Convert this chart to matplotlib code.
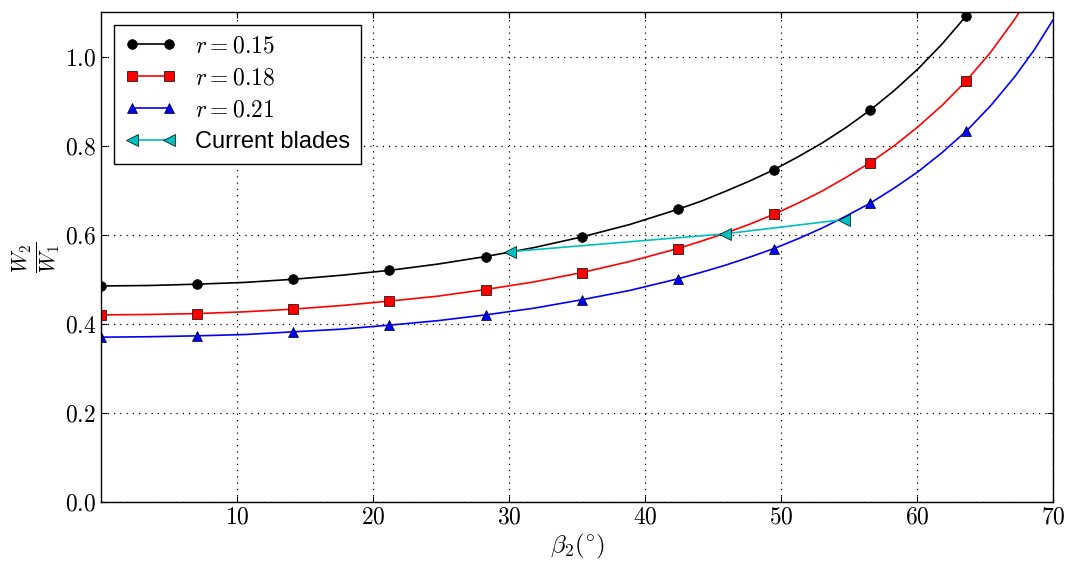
#!/usr/bin/env python
""" Relative velocity ratio W2/W1 against blade outlet angle beta2
for three radius ratios, with the current blade designs marked """

import matplotlib
matplotlib.use('Agg')
import matplotlib.pyplot as plt
from matplotlib.ticker import FormatStrFormatter

matplotlib.rcParams.update({'font.family': 'Liberation Sans', 'mathtext.fontset': 'cm',
    'font.size': 16, 'xtick.direction': 'in', 'ytick.direction': 'in',
    'xtick.top': True, 'ytick.right': True, 'xtick.major.size': 4, 'ytick.major.size': 4,
    'axes.linewidth': 1.0})

# outlet angle, degrees
beta2 = [0.0, 3.54, 7.07, 10.61, 14.14, 17.68, 21.21, 24.75, 28.28, 31.82, 35.35,
         38.89, 42.42, 44.19, 45.96, 47.73, 49.49, 51.26, 53.03, 54.80, 56.57,
         58.34, 60.10, 61.87, 63.64, 65.40, 67.17, 68.60, 70.0]
# angles carrying a marker
beta_marked = [0.0, 7.07, 14.14, 21.21, 28.28, 35.35, 42.42, 49.49, 56.57, 63.64]

w_r015 = [0.485, 0.486, 0.489, 0.493, 0.500, 0.509, 0.520, 0.534, 0.551, 0.571, 0.595,
          0.623, 0.657, 0.676, 0.698, 0.721, 0.746, 0.775, 0.806, 0.841, 0.880,
          0.924, 0.973, 1.029, 1.092, 1.165, 1.250, 1.329, 1.418]
w_r018 = [0.420, 0.421, 0.423, 0.427, 0.433, 0.441, 0.451, 0.462, 0.477, 0.494, 0.515,
          0.540, 0.569, 0.586, 0.604, 0.624, 0.646, 0.671, 0.698, 0.729, 0.762,
          0.800, 0.843, 0.891, 0.946, 1.009, 1.083, 1.151, 1.228]
w_r021 = [0.370, 0.371, 0.373, 0.376, 0.382, 0.388, 0.397, 0.407, 0.420, 0.435, 0.454,
          0.475, 0.501, 0.516, 0.532, 0.550, 0.569, 0.591, 0.615, 0.642, 0.671,
          0.705, 0.742, 0.785, 0.833, 0.889, 0.954, 1.014, 1.082]

# current blades
beta_cur = [30.1, 45.9, 54.6]
w_cur = [0.562, 0.602, 0.634]

fig = plt.figure(figsize=(10.7, 5.68), dpi=100)
ax = fig.add_axes([0.0944, 0.1162, 0.8897, 0.8627])

mk = [beta2.index(b) for b in beta_marked]
ax.plot(beta2, w_r015, c='k', lw=1.2, marker='o', ms=7, mec='k', mew=0.5,
        markevery=mk, label=r'$r = 0.15$')
ax.plot(beta2, w_r018, c='r', lw=1.2, marker='s', ms=7, mec='k', mew=0.5,
        markevery=mk, label=r'$r = 0.18$')
ax.plot(beta2, w_r021, c='b', lw=1.2, marker='^', ms=7, mec='k', mew=0.5,
        markevery=mk, label=r'$r = 0.21$')
ax.plot(beta_cur, w_cur, c='c', lw=1.2, marker='<', ms=9, mec='k', mew=0.5,
        label='Current blades')

ax.set(xlim=(0, 70), ylim=(0, 1.1))
ax.set_xticks([10, 20, 30, 40, 50, 60, 70])
ax.set_yticks([0.0, 0.2, 0.4, 0.6, 0.8, 1.0])
ax.xaxis.set_major_formatter(FormatStrFormatter('$%d$'))
ax.yaxis.set_major_formatter(FormatStrFormatter('$%.1f$'))
ax.tick_params(labelsize=17)
ax.grid(True, color='k', ls=(0, (1, 4)), lw=0.9)
ax.set_xlabel(r'$\beta_2(^{\circ})$', fontsize=18, labelpad=2)
ax.set_ylabel(r'$\frac{W_2}{W_1}$', fontsize=22, labelpad=2)

leg = ax.legend(loc='upper left', numpoints=2, fancybox=False, framealpha=1,
                edgecolor='k', fontsize=17, handlelength=2.2, borderaxespad=0.55,
                labelspacing=0.42, borderpad=0.45)
leg.get_frame().set_linewidth(1.0)

plt.savefig('out.png')
